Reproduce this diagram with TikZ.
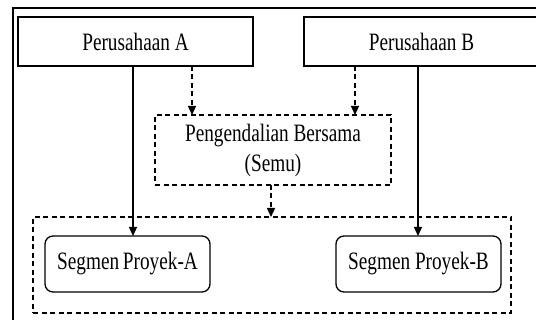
\documentclass[tikz,border=0pt]{standalone}
\usepackage{fontspec}
\setmainfont[FakeStretch=0.77]{Liberation Serif}
\usetikzlibrary{arrows.meta}
\begin{document}
\begin{tikzpicture}[x=1pt,y=-1pt,
  every node/.style={inner sep=0pt,outer sep=0pt,font=\fontsize{25}{29}\selectfont},
  firm/.style={draw,line width=1.3pt,rectangle,minimum height=49pt},
  seg/.style={draw,line width=1.3pt,rounded corners=8pt,minimum width=165pt,minimum height=56pt},
  dbox/.style={draw,line width=1.4pt,dash pattern=on 5pt off 3.5pt},
  solidarr/.style={draw,line width=1.3pt,-{Triangle[length=9pt,width=8pt]}},
  dasharr/.style={draw,line width=1.4pt,dash pattern=on 5pt off 3.5pt,-{Triangle[length=9pt,width=8pt]}}]
\useasboundingbox (0,0) rectangle (536,320);
\clip (0,0) rectangle (536,320);
\fill[white] (0,0) rectangle (536,320);
% outer frame
\draw[line width=2.2pt] (13,8) rectangle (560,340);
% parent companies
\node[firm,minimum width=235pt] (pa) at (135.5,41.5) {Perusahaan A};
\node[firm,minimum width=235pt] (pb) at (421.5,41.5) {Perusahaan B};
% joint control
\node[dbox,minimum width=236pt,minimum height=70pt,align=center] (pj) at (273,150)
  {Pengendalian Bersama\\[1pt](Semu)};
% enclosing project area
\node[dbox,minimum width=478pt,minimum height=96pt] (area) at (272,265) {};
% project segments
\node[seg] (sa) at (127.5,264) {Segmen\kern-1pt\ Proyek-A};
\node[seg] (sb) at (418.5,264) {Segmen Proyek-B};
% connectors
\draw[solidarr] (pa.south -| 133,0) -- (sa.north -| 133,0);
\draw[solidarr] (pb.south -| 418,0) -- (sb.north -| 418,0);
\draw[dasharr] (pa.south -| 192,0) -- (pj.north -| 192,0);
\draw[dasharr] (pb.south -| 355,0) -- (pj.north -| 355,0);
\draw[dasharr] (pj.south -| 271,0) -- (area.north -| 271,0);
\end{tikzpicture}
\end{document}
